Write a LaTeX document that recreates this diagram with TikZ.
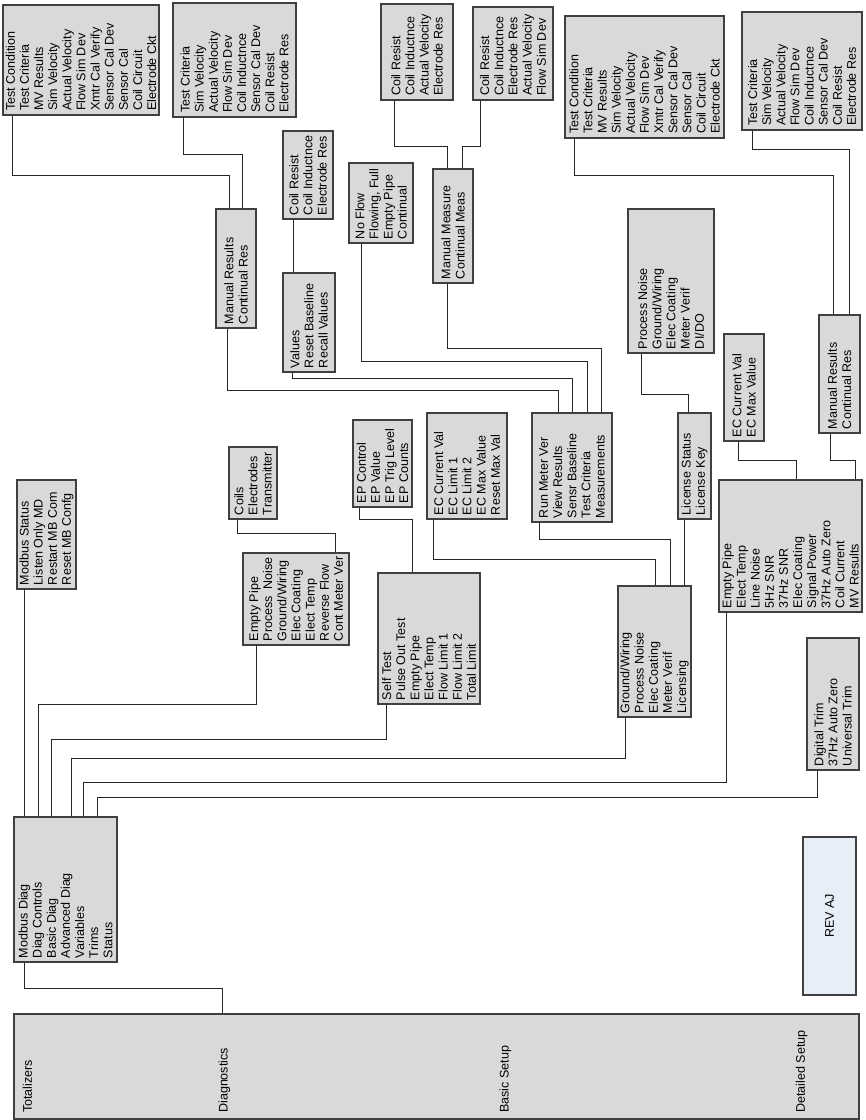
\documentclass[tikz,border=0pt]{standalone}
\usepackage{fontspec}
\setmainfont{Liberation Sans}
\usetikzlibrary{fit,calc}
\definecolor{boxfill}{HTML}{D9D9D9}
\definecolor{boxline}{HTML}{404040}
\definecolor{revfill}{HTML}{E8EEF8}
\tikzset{
  box/.style={draw=boxline, fill=boxfill, line width=0.8pt, inner sep=0pt, rectangle},
  lbl/.style={rotate=90, align=left, inner sep=0pt, font=\fontsize{9.4}{10.6}\selectfont, text=black},
  conn/.style={draw=black!85, line width=0.75pt},
}
\newcommand\menubox[6]{%
  \node[box, fit={(#2,#3) (#4,#5)}] (#1) {};
  \node[lbl, anchor=west] (#1-t) at ([yshift=3.2pt]#1.south) {#6};
}
\begin{document}
\begin{tikzpicture}[x=0.75pt,y=-0.75pt]
\useasboundingbox (0,0) rectangle (866,1120);
% boxes
\menubox{tc1}{3}{5}{159}{115}{Test Condition\\Test Criteria\\MV Results\\Sim Velocity\\Actual Velocity\\Flow Sim Dev\\Xmtr Cal Verify\\Sensor Cal Dev\\Sensor Cal\\Coil Circuit\\Electrode Ckt}
\menubox{tcr1}{173}{3}{296}{117}{Test Criteria\\Sim Velocity\\Actual Velocity\\Flow Sim Dev\\Coil Inductnce\\Sensor Cal Dev\\Coil Resist\\Electrode Res}
\menubox{mr1}{216}{209}{256}{328}{Manual Results\\Continual Res}
\menubox{cr1}{283}{131}{333}{219}{Coil Resist\\Coil Inductnce\\Electrode Res}
\menubox{val}{283}{273}{335}{372}{Values\\Reset Baseline\\Recall Values}
\menubox{cr2}{381}{4}{453}{100}{Coil Resist\\Coil Inductnce\\Actual Velocity\\Electrode Res}
\menubox{cr3}{473}{7}{553}{100}{Coil Resist\\Coil Inductnce\\Electrode Res\\Actual Velocity\\Flow Sim Dev}
\menubox{nf}{349}{163}{413}{243}{No Flow\\Flowing, Full\\Empty Pipe\\Continual}
\menubox{mm}{433}{169}{473}{283}{Manual Measure\\Continual Meas}
\menubox{tc2}{565}{16}{724}{138}{Test Condition\\Test Criteria\\MV Results\\Sim Velocity\\Actual Velocity\\Flow Sim Dev\\Xmtr Cal Verify\\Sensor Cal Dev\\Sensor Cal\\Coil Circuit\\Electrode Ckt}
\menubox{tcr2}{742}{12}{862}{130}{Test Criteria\\Sim Velocity\\Actual Velocity\\Flow Sim Dev\\Coil Inductnce\\Sensor Cal Dev\\Coil Resist\\Electrode Res}
\menubox{mr2}{819}{315}{860}{433}{Manual Results\\Continual Res}
\menubox{pn}{628}{209}{714}{353}{Process Noise\\Ground/Wiring\\Elec Coating\\Meter Verif\\DI/DO}
\menubox{ls}{678}{413}{711}{519}{License Status\\License Key}
\menubox{ec2}{724}{334}{764}{441}{EC Current Val\\EC Max Value}
\menubox{adv}{719}{480}{862}{612}{Empty Pipe\\Elect Temp\\Line Noise\\5Hz SNR\\37Hz SNR\\Elec Coating\\Signal Power\\37Hz Auto Zero\\Coil Current\\MV Results}
\menubox{rmv}{532}{413}{612}{522}{Run Meter Ver\\View Results\\Sensr Baseline\\Test Criteria\\Measurements}
\menubox{gw}{618}{586}{691}{717}{Ground/Wiring\\Process Noise\\Elec Coating\\Meter Verif\\Licensing}
\menubox{ec1}{427}{413}{507}{519}{EC Current Val\\EC Limit 1\\EC Limit 2\\EC Max Value\\Reset Max Val}
\menubox{ep}{353}{420}{412}{507}{EP Control\\EP Value\\EP Trig Level\\EP Counts}
\menubox{st}{378}{573}{480}{704}{Self Test\\Pulse Out Test\\Empty Pipe\\Elect Temp\\Flow Limit 1\\Flow Limit 2\\Total Limit}
\menubox{epd}{243}{553}{349}{645}{Empty Pipe\\Process\hspace{0.5em}Noise\\Ground/Wiring\\Elec Coating\\Elect Temp\\Reverse Flow\\Cont Meter Ver}
\menubox{coils}{229}{447}{277}{519}{Coils\\Electrodes\\Transmitter}
\menubox{mbs}{17}{480}{76}{589}{Modbus Status\\Listen Only MD\\Restart MB Com\\Reset MB Confg}
\menubox{dt}{807}{638}{859}{770}{Digital Trim\\37Hz Auto Zero\\Universal Trim}
\menubox{md}{14}{817}{117}{962}{Modbus Diag\\Diag Controls\\Basic Diag\\Advanced Diag\\Variables\\Trims\\Status}
\node[box, fill=revfill, fit={(803,837) (856,995)}] (rev) {};
\node[lbl] (rev-t) at (rev.center) {REV AJ};
\node[box, fit={(14,1014) (859,1119)}] (main) {};
\node[lbl, anchor=west] (tot) at (27.5,1113) {Totalizers};
\node[lbl, anchor=west] (diag) at (224.5,1113) {Diagnostics};
\node[lbl, anchor=west] (bas) at (505.5,1113) {Basic Setup};
\node[lbl, anchor=west] (det) at (801.5,1113) {Detailed Setup};
% connectors
\draw[conn] (tc1.south -| 12,0) -- (12,176) -| (mr1.north -| 229,0);
\draw[conn] (tcr1.south -| 183,0) -- (183,155) -| (mr1.north -| 242,0);
\draw[conn] (cr1.south -| 293,0) -- (val.north -| 293,0);
\draw[conn] (mr1.south -| 227,0) -- (227,390) -| (rmv.north -| 558,0);
\draw[conn] (val.south -| 292,0) -- (292,378) -| (rmv.north -| 572,0);
\draw[conn] (nf.south -| 361,0) -- (361,361) -| (rmv.north -| 587,0);
\draw[conn] (mm.south -| 447,0) -- (447,348) -| (rmv.north -| 601,0);
\draw[conn] (cr2.south -| 394,0) -- (394,147) -| (mm.north -| 447,0);
\draw[conn] (cr3.south -| 480,0) -- (480,147) -| (mm.north -| 462,0);
\draw[conn] (tc2.south -| 574,0) -- (574,176) -| (mr2.north -| 833,0);
\draw[conn] (tcr2.south -| 752,0) -- (752,150) -| (mr2.north -| 849,0);
\draw[conn] (pn.south -| 641,0) -- (641,394) -| (ls.north -| 688,0);
\draw[conn] (ls.south -| 684,0) -- (gw.north -| 684,0);
\draw[conn] (ec2.south -| 738,0) -- (738,460) -| (adv.north -| 796,0);
\draw[conn] (mr2.south -| 830,0) -- (830,460) -| (adv.north -| 855,0);
\draw[conn] (rmv.south -| 539,0) -- (539,539) -| (gw.north -| 670,0);
\draw[conn] (ec1.south -| 433,0) -- (433,559) -| (gw.north -| 655,0);
\draw[conn] (ep.south -| 359,0) -- (359,519) -| (st.north -| 412,0);
\draw[conn] (coils.south -| 237,0) -- (237,533) -| (epd.north -| 335,0);
\draw[conn] (mbs.south -| 24,0) -- (md.north -| 24,0);
\draw[conn] (epd.south -| 256,0) -- (256,704) -| (md.north -| 38,0);
\draw[conn] (st.south -| 386,0) -- (386,739) -| (md.north -| 51,0);
\draw[conn] (gw.south -| 625,0) -- (625,758) -| (md.north -| 71,0);
\draw[conn] (adv.south -| 726,0) -- (726,782) -| (md.north -| 83,0);
\draw[conn] (dt.south -| 817,0) -- (817,797) -| (md.north -| 97,0);
\draw[conn] (md.south -| 24,0) -- (24,988) -| (main.north -| 222,0);
\end{tikzpicture}
\end{document}
